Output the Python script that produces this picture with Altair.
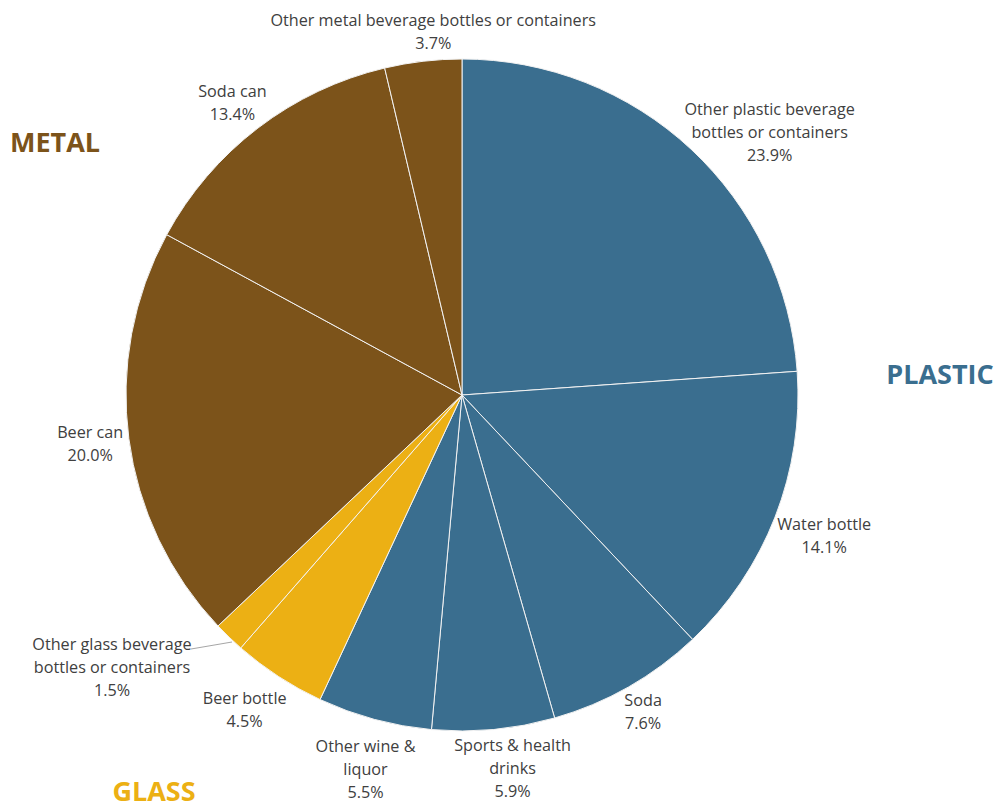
import altair as alt
import pandas as pd

labels = [
    "Other plastic beverage\nbottles or containers",
    "Water bottle",
    "Soda",
    "Sports & health\ndrinks",
    "Other wine &\nliquor",
    "Beer bottle",
    "Other glass beverage\nbottles or containers",
    "Beer can",
    "Soda can",
    "Other metal beverage bottles or containers",
]
values = [23.9, 14.1, 7.6, 5.9, 5.5, 4.5, 1.5, 20.0, 13.4, 3.7]
groups = ["PLASTIC", "PLASTIC", "PLASTIC", "PLASTIC", "PLASTIC",
          "GLASS", "GLASS", "METAL", "METAL", "METAL"]
group_names = ["PLASTIC", "GLASS", "METAL"]
group_colors = ["#3a6e8f", "#ecb014", "#7c531a"]

df = pd.DataFrame({
    "label": labels,
    "value": values,
    "group": groups,
    "idx": list(range(len(labels))),
})
df["text"] = df["label"] + "\n" + df["value"].map(lambda v: f"{v:.1f}%")

FONT = "Open Sans"
TXT = "#404040"
LH = 23

# slice angles computed from the data (fractions of the whole)
base = alt.Chart(df).transform_joinaggregate(
    total="sum(value)"
).transform_window(
    cum="sum(value)", sort=[alt.SortField("idx", order="ascending")],
    frame=[None, 0]
).transform_calculate(
    start="(datum.cum - datum.value) / datum.total",
    end="datum.cum / datum.total",
    mid="(datum.cum - datum.value / 2) / datum.total",
)

theta_scale = alt.Scale(domain=[0, 1])

pie = base.mark_arc(outerRadius=336, stroke="#f2f2f2", strokeWidth=1).encode(
    theta=alt.Theta("start:Q", scale=theta_scale, stack=None),
    theta2="end:Q",
    color=alt.Color("group:N",
                    scale=alt.Scale(domain=group_names, range=group_colors),
                    legend=None),
)

# label nudges (layout only): label index -> (dx, dy)
nudges = {
    0: (50, 15),
    1: (10, 4),
    2: (-6, -11),
    3: (15, -2),
    4: (2, 10),
    5: (-11, -1),
    6: (-88, 1),
    7: (3, 0),
    8: (0, 9),
    9: (15, 13),
}

layers = [pie]
for i, (dx, dy) in nudges.items():
    nlines = df["text"][i].count("\n") + 1
    off = -(nlines - 1) * LH / 2
    layers.append(
        base.transform_filter(alt.datum.idx == i).mark_text(
            radius=378, font=FONT, fontSize=16.2, color=TXT,
            lineBreak="\n", lineHeight=LH, align="center",
            baseline="middle", dx=dx, dy=dy + off
        ).encode(
            theta=alt.Theta("mid:Q", scale=theta_scale, stack=None),
            text="text:N",
        )
    )

leader = alt.Chart(pd.DataFrame({"a": [0]})).mark_rule(color="#a6a6a6", strokeWidth=1).encode(
    x=alt.value(183), y=alt.value(641), x2=alt.value(224), y2=alt.value(634)
)
layers.append(leader)

ann = pd.DataFrame({"name": group_names})
def big(name, color, x, y):
    return alt.Chart(ann).transform_filter(alt.datum.name == name).mark_text(
        font=FONT, fontSize=27, fontWeight="bold", color=color,
        align="center", baseline="middle"
    ).encode(text="name:N", x=alt.value(x), y=alt.value(y))

layers += [
    big("PLASTIC", group_colors[0], 932, 368),
    big("GLASS", group_colors[1], 146, 785),
    big("METAL", group_colors[2], 47, 136),
]

chart = alt.layer(*layers).properties(
    width=908, height=774,
    autosize=alt.AutoSizeParams(type="none"),
    padding={"left": 0, "top": 0, "right": 78, "bottom": 27},
).configure_view(stroke=None)

chart.save("out.html", embed_options={"renderer": "svg", "actions": False})
